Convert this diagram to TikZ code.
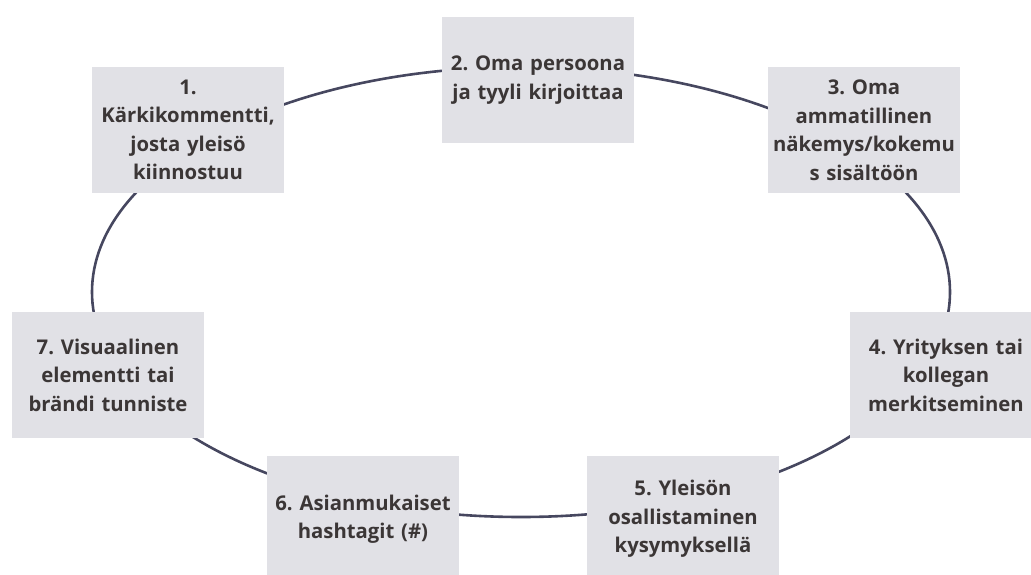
\documentclass[tikz,border=0pt]{standalone}
\usepackage{fontspec}
\setmainfont{Open Sans}
\usepackage{xcolor}
\usetikzlibrary{positioning}

\definecolor{boxgray}{HTML}{E1E1E6}
\definecolor{ringline}{HTML}{46475F}
\definecolor{textdark}{HTML}{3B3636}

\frenchspacing

\begin{document}
\begin{tikzpicture}[
    x=1pt, y=-1pt,
    stage/.style={rectangle, fill=boxgray, minimum width=192pt, minimum height=126pt, text width=190pt, align=center, inner sep=0pt, text=textdark, font=\fontsize{20.3}{28.5}\selectfont\bfseries},
    ring/.style={draw=ringline, line width=2.6pt}
]
    \useasboundingbox (0,0) rectangle (1031,574);

    % Cycle
    \coordinate (centre) at (521,292);
    \draw [ring] (centre) ellipse [x radius=429pt, y radius=225pt];

    % Steps
    \node (s1) [stage] at (188,130) {1.\\Kärkikommentti,\\josta yleisö\\kiinnostuu};
    \node (s2) [stage] at (538,80) {2. Oma persoona\\ja tyyli kirjoittaa};
    \node (s3) [stage] at (864,130) {3. Oma\\ammatillinen\\näkemys/kokemu\\s sisältöön};
    \node (s4) [stage] at (946,375) {4. Yrityksen tai\\kollegan\\merkitseminen};
    \node (s5) [stage] at (683,519) {5. Yleisön\\osallistaminen\\kysymyksellä};
    \node (s6) [stage] at (363,519) {6. Asianmukaiset\\hashtagit (\#)};
    \node (s7) [stage] at (108,375) {7. Visuaalinen\\elementti tai\\brändi tunniste};

\end{tikzpicture}
\end{document}
